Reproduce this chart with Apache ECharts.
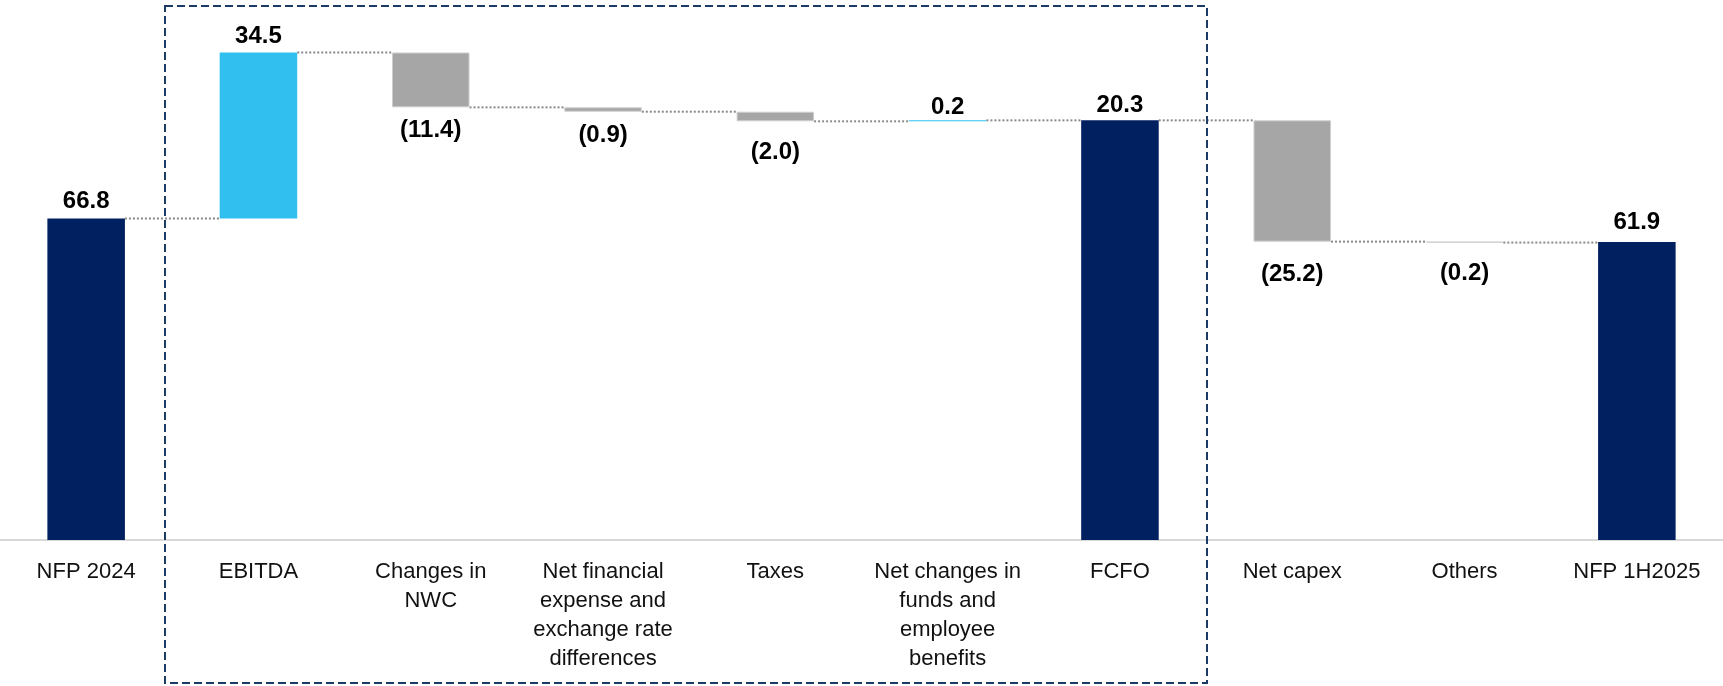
<!DOCTYPE html>
<html>
<head>
<meta charset="utf-8">
<script src="https://cdn.jsdelivr.net/npm/echarts@6/dist/echarts.min.js"></script>
<style>
html,body{margin:0;padding:0;background:#fff;}
#c{width:1723px;height:686px;}
</style>
</head>
<body>
<div id="c"></div>
<script>
const categories = ['NFP 2024', 'EBITDA', 'Changes in\nNWC', 'Net financial\nexpense and\nexchange rate\ndifferences', 'Taxes', 'Net changes in\nfunds and\nemployee\nbenefits', 'FCFO', 'Net capex', 'Others', 'NFP 1H2025'];
const values = [66.8, 34.5, -11.4, -0.9, -2.0, 0.2, 20.3, -25.2, -0.2, 61.9];
const kinds = ['total', 'delta', 'delta', 'delta', 'delta', 'delta', 'subtotal', 'delta', 'delta', 'total'];

// style constants (label gaps per bar)
const labelGap = [5, 4, 11, 12, 19, 1, 3, 21, 19, 8];
const COL_TOTAL = '#002060', COL_UP = '#31BFF0', COL_DOWN = '#A6A6A6';

const base = [], heights = [], levels = [];
let run = 0;
values.forEach((v, i) => {
  const k = kinds[i];
  if (k === 'total') { base.push(0); heights.push(v); run = v; }
  else if (k === 'subtotal') { base.push(0); heights.push(run); }
  else if (v >= 0) { base.push(run); heights.push(v); run += v; }
  else { base.push(run + v); heights.push(-v); run += v; }
  levels.push(run);
});

const fmt = v => v < 0 ? '(' + Math.abs(v).toFixed(1) + ')' : v.toFixed(1);

const barData = heights.map((h, i) => {
  const v = values[i], k = kinds[i];
  const color = (k !== 'delta') ? COL_TOTAL : (v >= 0 ? COL_UP : COL_DOWN);
  return {
    value: h,
    itemStyle: {
      color: color,
      borderColor: (k === 'delta' && v < 0) ? '#CFCFCF' : color,
      borderWidth: (k === 'delta' && v < 0) ? 1 : 0
    },
    label: { position: v < 0 ? 'bottom' : 'top', distance: labelGap[i] }
  };
});

const connData = [];
for (let i = 0; i < values.length - 1; i++) connData.push([i, levels[i]]);

const chart = echarts.init(document.getElementById('c'), null, { renderer: 'canvas' });
chart.setOption({
  animation: false,
  grid: { left: 0, right: 0, top: 1, bottom: 146, containLabel: false },
  xAxis: {
    type: 'category',
    data: categories,
    axisLine: { show: true, lineStyle: { color: '#D9D9D9', width: 2 } },
    axisTick: { show: false },
    axisLabel: {
      interval: 0, fontSize: 22, lineHeight: 29, color: '#111',
      fontFamily: 'Liberation Sans', margin: 17
    }
  },
  yAxis: { type: 'value', min: 0, max: 112, show: false, splitLine: { show: false } },
  series: [
    {
      type: 'bar', stack: 'w', data: base, barWidth: '45%',
      itemStyle: { color: 'rgba(0,0,0,0)' }, silent: true
    },
    {
      type: 'bar', stack: 'w', data: barData, barWidth: '45%',
      label: {
        show: true, fontSize: 24, fontWeight: 'bold', color: '#000',
        fontFamily: 'Liberation Sans',
        formatter: p => fmt(values[p.dataIndex])
      }
    },
    {
      type: 'custom',
      data: connData,
      z: 1,
      renderItem: (params, api) => {
        const p = api.coord([api.value(0), api.value(1)]);
        const cw = api.size([1, 0])[0];
        const bw = cw * 0.45;
        return {
          type: 'line',
          shape: { x1: p[0] + bw / 2, y1: p[1], x2: p[0] + cw - bw / 2, y2: p[1] },
          style: { stroke: '#8A8A8A', lineWidth: 2, lineDash: [2, 2] }
        };
      }
    }
  ],
  graphic: [
    {
      type: 'rect', z: 100,
      shape: { x: 165, y: 6, width: 1042, height: 677 },
      style: { fill: 'none', stroke: '#1B3A66', lineWidth: 2, lineDash: [8, 4] }
    }
  ]
});
</script>
</body>
</html>
